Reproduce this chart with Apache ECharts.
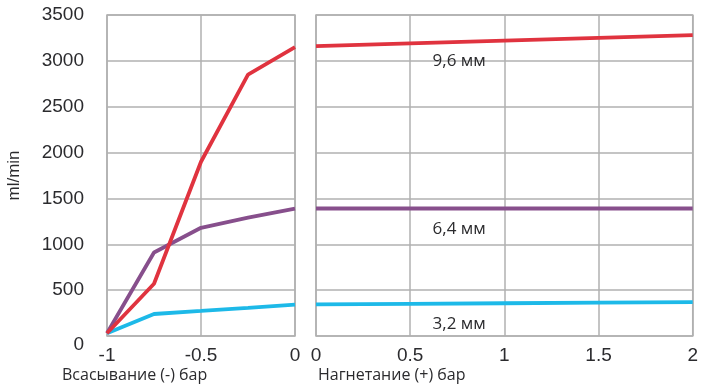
<!DOCTYPE html>
<html><head><meta charset="utf-8">
<script src="https://cdn.jsdelivr.net/npm/echarts@6/dist/echarts.min.js"></script>
<style>html,body{margin:0;padding:0;background:#fff}#c{width:701px;height:389px}</style>
</head><body><div id="c"></div>
<script>
// Suction side (left panel), x in bar
const suctionX = [-1, -0.75, -0.5, -0.25, 0];
const suction96 = [30, 570, 1900, 2850, 3150];
const suction64 = [30, 910, 1180, 1290, 1390];
const suction32 = [30, 240, 273, 307, 342];
// Pressure side (right panel)
const pressureX = [0, 0.5, 1, 1.5, 2];
const pressure96 = [3160, 3190, 3220, 3250, 3280];
const pressure64 = [1390, 1390, 1390, 1390, 1390];
const pressure32 = [345, 351, 357, 364, 370];
const seriesNames = ['9,6 мм', '6,4 мм', '3,2 мм'];
const yTicks = [0, 500, 1000, 1500, 2000, 2500, 3000, 3500];
const leftTicks = ['-1', '-0.5', '0'];
const rightTicks = ['0', '0.5', '1', '1.5', '2'];
const yName = 'ml/min';
const leftTitle = 'Всасывание (-) бар';
const rightTitle = 'Нагнетание (+) бар';
// label anchor points (data coords in right panel)
const labelX = [0.76, 0.76, 0.76];
const labelY = [3000, 1165, 130];

const colors = ['#e0333f', '#874f8c', '#1db9e8'];
const gridColor = '#b0b0b0';
const txt = '#2b2b2e';
const numFont = 'Arial, "Liberation Sans", sans-serif';
const txtFont = '"Open Sans", sans-serif';

function pairs(xs, ys){ return xs.map((x,i)=>[x, ys[i]]); }

const chart = echarts.init(document.getElementById('c'), null, {renderer:'canvas'});
const commonY = {
  type:'value', min:0, max:3500, interval:500,
  axisLine:{show:false}, axisTick:{show:false},
  splitLine:{show:true, lineStyle:{color:gridColor, width:1.5}}
};
const leftSeries = [suction96, suction64, suction32];
const rightSeries = [pressure96, pressure64, pressure32];
const series = [];
[2,1,0].forEach(i=>{
  series.push({type:'line', name:seriesNames[i], xAxisIndex:0, yAxisIndex:0, data:pairs(suctionX, leftSeries[i]),
    symbol:'none', lineStyle:{color:colors[i], width:3.8}, z:3+(2-i)});
});
[2,1,0].forEach(i=>{
  series.push({type:'line', name:seriesNames[i], xAxisIndex:1, yAxisIndex:1, data:pairs(pressureX, rightSeries[i]),
    symbol:'none', lineStyle:{color:colors[i], width:3.8}, z:3,
    markPoint:{symbol:'circle', symbolSize:1, silent:true, itemStyle:{color:'rgba(0,0,0,0)'},
      data:[{coord:[labelX[i], labelY[i]], value:seriesNames[i],
      label:{show:true, formatter:seriesNames[i], color:txt, fontSize:17, fontFamily:txtFont, position:'inside'}}]}
  });
});

chart.setOption({
  animation:false,
  grid:[
    {left:107, right:406, top:15, bottom:53, show:true, borderColor:gridColor, borderWidth:1.5},
    {left:316, right:6, top:15, bottom:53, show:true, borderColor:gridColor, borderWidth:1.5}
  ],
  xAxis:[
    {gridIndex:0, type:'value', min:-1, max:0, interval:0.5,
      axisLine:{show:false}, axisTick:{show:false},
      splitLine:{show:true, lineStyle:{color:gridColor, width:1.5}},
      axisLabel:{color:txt, fontSize:19, fontFamily:numFont, margin:10,
        formatter:v=>{const i=Math.round((v+1)/0.5); return leftTicks[i];}}},
    {gridIndex:1, type:'value', min:0, max:2, interval:0.5,
      axisLine:{show:false}, axisTick:{show:false},
      splitLine:{show:true, lineStyle:{color:gridColor, width:1.5}},
      axisLabel:{color:txt, fontSize:19, fontFamily:numFont, margin:10,
        formatter:v=>{const i=Math.round(v/0.5); return rightTicks[i];}}}
  ],
  yAxis:[
    Object.assign({gridIndex:0, name:yName, nameLocation:'middle', nameGap:84, nameRotate:90,
      nameTextStyle:{color:txt, fontSize:17, fontFamily:numFont},
      axisLabel:{color:txt, fontSize:19, fontFamily:numFont, margin:23,
        formatter:v=>{const i=yTicks.indexOf(v); const s=String(yTicks[i]); return v===0?'{z|'+s+'}':s;},
        rich:{z:{fontSize:19, fontFamily:numFont, color:txt, padding:[18,0,0,0]}}}}, commonY),
    Object.assign({gridIndex:1, axisLabel:{show:false}}, commonY)
  ],
  title:[
    {text:leftTitle, left:62, top:367, textStyle:{color:txt, fontSize:16, fontWeight:'normal', fontFamily:txtFont}, padding:0},
    {text:rightTitle, left:318, top:367, textStyle:{color:txt, fontSize:16, fontWeight:'normal', fontFamily:txtFont}, padding:0}
  ],
  series:series
});
</script></body></html>
